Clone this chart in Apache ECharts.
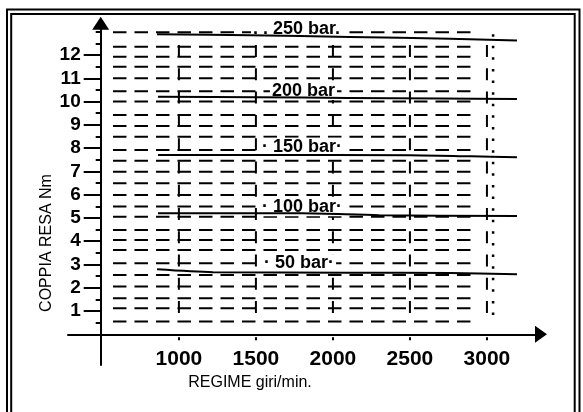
<!DOCTYPE html>
<html>
<head>
<meta charset="utf-8">
<title>Coppia resa</title>
<script src="https://cdn.jsdelivr.net/npm/echarts@6/dist/echarts.min.js"></script>
<style>
  html, body { margin: 0; padding: 0; background: #fff; }
  #main { width: 583px; height: 412px; }
</style>
</head>
<body>
<div id="main"></div>
<script>
// axis ticks
var rpmTicks = [1000, 1500, 2000, 2500, 3000];
var torqueTicks = [1, 2, 3, 4, 5, 6, 7, 8, 9, 10, 11, 12];
var halfTicks = [0.5, 1.5, 2.5, 3.5, 4.5, 5.5, 6.5, 7.5, 8.5, 9.5, 10.5, 11.5, 12.5, 13];

// curves: [rpm, Nm]
var curve250 = [[858, 12.89], [1462, 12.85], [2111, 12.78], [2760, 12.70], [3195, 12.63]];
var curve200 = [[864, 10.21], [1500, 10.19], [2100, 10.16], [2700, 10.13], [3195, 10.11]];
var curve150 = [[864, 7.71], [1500, 7.71], [2500, 7.70], [2900, 7.65], [3195, 7.61]];
var curve100 = [[864, 5.20], [1800, 5.20], [2300, 5.12], [3195, 5.08]];
var curve50 = [[858, 2.79], [1221, 2.67], [2111, 2.65], [2760, 2.63], [3195, 2.58]];

// curve labels
var labelTexts = ['. . 250 bar.', '200 bar', '· 150 bar·', '· 100 bar·', '· 50 bar·'];
var labelRpm = [1468, 1591, 1527, 1527, 1540];
var labelNm = [13.13, 10.46, 8.06, 5.46, 3.05];

// dashed grid of the drawing
var gridRows = [12.98, 12.36, 11.93, 11.5, 11.0, 10.45, 10.0, 9.42, 8.95, 8.49, 7.92, 7.46, 6.99,
  6.49, 5.99, 5.49, 5.05, 4.48, 4.05, 3.62, 3.05, 2.55, 2.05, 1.55, 1.12, 0.55];
var gridCols = [1000, 1500, 2000, 2500, 3000];
var rowFrom = 572, rowTo = 2903;
var colTop = 12.43, colBottom = 0.83;
var dotRpm = 3040, dotTop = 12.9, dotBottom = 0.53;

var font = 'Liberation Sans, Arial, sans-serif';
var chart = echarts.init(document.getElementById('main'));

var labelData = labelTexts.map(function (t, i) { return [labelRpm[i], labelNm[i], t]; });

function curve(data) {
  return {
    type: 'line', data: data, smooth: 0.3, symbol: 'none', z: 4,
    lineStyle: {color: '#000', width: 2}
  };
}

chart.setOption({
  animation: false,
  backgroundColor: '#fff',
  textStyle: {fontFamily: font},
  grid: {left: 68, right: 42, top: 23.2, bottom: 47},
  xAxis: {
    type: 'value', min: 280, max: 3351,
    axisLine: {show: true, onZero: true, symbol: ['none', 'triangle'], symbolSize: [17, 12],
      lineStyle: {color: '#000', width: 2}},
    axisTick: {show: true, customValues: rpmTicks, length: 6,
      lineStyle: {color: '#000', width: 2, type: [0, 3, 3, 10]}},
    axisLabel: {customValues: rpmTicks, margin: -16, color: '#000', fontSize: 21, fontWeight: 'bold', fontFamily: font,
      formatter: function (v) { return String(v); }},
    splitLine: {show: false}
  },
  yAxis: [{
    type: 'value', position: 'left', min: -1.32, max: 13.37, offset: -32.7,
    axisLine: {show: true, onZero: false, symbol: ['none', 'triangle'], symbolSize: [17, 13],
      lineStyle: {color: '#000', width: 2}},
    axisTick: {show: true, customValues: torqueTicks, length: 17, lineStyle: {color: '#000', width: 2}},
    axisLabel: {customValues: torqueTicks, margin: 20, color: '#000', fontSize: 19, fontWeight: 'bold',
      fontFamily: font, padding: [0, 0, 9, 0]},
    splitLine: {show: false}
  }, {
    type: 'value', position: 'left', min: -1.32, max: 13.37, offset: -32.7,
    axisLine: {show: false, onZero: false},
    axisTick: {show: true, customValues: halfTicks, length: 5, lineStyle: {color: '#000', width: 2}},
    axisLabel: {show: false},
    splitLine: {show: false}
  }],
  graphic: [
    {type: 'rect', silent: true, shape: {x: 7, y: 9.5, width: 572.5, height: 440},
      style: {fill: 'none', stroke: '#000', lineWidth: 2}},
    {type: 'rect', silent: true, shape: {x: 11.2, y: 14, width: 563.5, height: 440},
      style: {fill: 'none', stroke: '#000', lineWidth: 2}},
    {type: 'text', x: 47, y: 243, rotation: Math.PI / 2,
      style: {text: 'COPPIA RESA Nm', fontSize: 16, fontFamily: font, fill: '#000', align: 'center', verticalAlign: 'middle'}},
    {type: 'text', x: 250, y: 383,
      style: {text: 'REGIME giri/min.', fontSize: 16, fontFamily: font, fill: '#000', align: 'center', verticalAlign: 'middle'}}
  ],
  series: [
    {
      type: 'custom', name: 'rows', z: 1,
      data: gridRows.map(function (v) { return [rowFrom, v]; }),
      encode: {x: 0, y: 1},
      renderItem: function (params, api) {
        var a = api.coord([rowFrom, api.value(1)]);
        var b = api.coord([rowTo, api.value(1)]);
        return {type: 'line', shape: {x1: a[0], y1: a[1], x2: b[0], y2: b[1]},
          style: {stroke: '#000', lineWidth: 2, lineDash: [13.5, 8]}};
      }
    },
    {
      type: 'custom', name: 'cols', z: 1,
      data: gridCols.map(function (r) { return [r, colTop]; }),
      encode: {x: 0, y: 1},
      renderItem: function (params, api) {
        var a = api.coord([api.value(0), colTop]);
        var b = api.coord([api.value(0), colBottom]);
        return {type: 'line', shape: {x1: a[0], y1: a[1], x2: b[0], y2: b[1]},
          style: {stroke: '#000', lineWidth: 2, lineDash: [12, 11.27]}};
      }
    },
    {
      type: 'custom', name: 'dots', z: 1,
      data: [[dotRpm, dotTop]],
      encode: {x: 0, y: 1},
      renderItem: function (params, api) {
        var a = api.coord([dotRpm, dotTop]);
        var b = api.coord([dotRpm, dotBottom]);
        return {type: 'line', shape: {x1: a[0], y1: a[1], x2: b[0], y2: b[1]},
          style: {stroke: '#000', lineWidth: 2.5, lineDash: [2.5, 9.1]}};
      }
    },
    {
      type: 'scatter', name: 'labels', z: 2, symbolSize: 0,
      itemStyle: {opacity: 1},
      data: labelData,
      label: {
        show: true, position: 'right', distance: 0,
        formatter: function (p) { return p.value[2]; },
        color: '#000', opacity: 1, fontSize: 18, fontWeight: 'bold', fontFamily: font,
        backgroundColor: '#fff', padding: [0, 2]
      }
    },
    curve(curve250),
    curve(curve200),
    curve(curve150),
    curve(curve100),
    curve(curve50)
  ]
});
</script>
</body>
</html>
